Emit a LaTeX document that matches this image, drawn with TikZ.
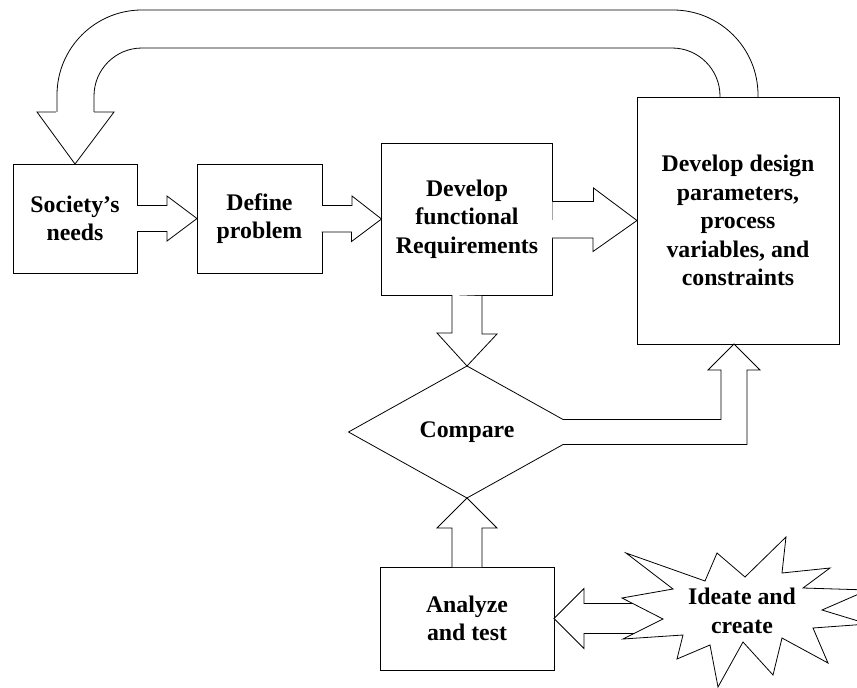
\documentclass[tikz,border=0pt]{standalone}
\usepackage{fontspec}
\setmainfont{Liberation Serif}
\usetikzlibrary{shapes.geometric,calc}

\begin{document}
\begin{tikzpicture}[
  x=1pt, y=-1pt,
  font=\fontsize{23.8}{28.5}\selectfont\bfseries,
  line width=0.8pt,
  box/.style={rectangle, draw, align=center, inner sep=0pt, outer sep=0pt},
  decision/.style={diamond, draw, aspect=1.8, inner sep=0pt, outer sep=0pt,
                   minimum width=237pt, minimum height=132pt},
  blk/.style={draw, fill=white, line join=miter},
  band/.style={draw}
]
\useasboundingbox (0,0) rectangle (857,688);

% --- Fila superior ---
\node[box, minimum width=124pt, minimum height=109pt] (soc) at (75,218.5)
      {Society’s\\needs};
\node[box, minimum width=125pt, minimum height=109pt] (def) at (259.5,218.5)
      {Define\\problem};
\node[box, minimum width=171pt, minimum height=152pt] (fr) at (467,219)
      {Develop\\functional\\Requirements};
\node[box, minimum width=202pt, minimum height=247pt] (dp) at (738,220.5)
      {Develop design\\parameters,\\process\\variables, and\\constraints};

% --- Comparar y probar ---
\node[decision] (cmp) at (467,432) {Compare};
\node[box, minimum width=174pt, minimum height=103pt] (ana) at (467,618.5)
      {Analyze\\and test};
\coordinate (ia) at (660,618.5);
\coordinate (tipdp) at ([xshift=-4pt]dp.south);

% --- Flechas de bloque ---
\draw[blk] (soc.east) ++(0,-13) -- ++(30,0) -- ++(0,-9.5) -- (def.west)
      -- ++(-30,22.5) -- ++(0,-9.5) -- ++(-30,0);
\draw[blk] (def.east) ++(0,-13) -- ++(30,0) -- ++(0,-9.5) -- (fr.west)
      -- ++(-30,22.5) -- ++(0,-9.5) -- ++(-30,0);
\draw[blk] (fr.east) ++(0,-17.5) -- ++(41,0) -- ++(0,-13.5) -- (dp.west)
      -- ++(-44,31) -- ++(0,-13.5) -- ++(-41,0);
\draw[blk] (fr.south) ++(-15,0) -- ++(0,38) -- ++(-15,0) -- (cmp.north)
      -- ++(30,-32) -- ++(-15,0) -- ++(0,-38);
\draw[blk] (ana.north) ++(-15,0) -- ++(0,-39) -- ++(-15,0) -- (cmp.south)
      -- ++(30,30) -- ++(-15,0) -- ++(0,39);
\draw[blk] ($(cmp.east)!0.19!(cmp.north)$) -| ([xshift=-13pt,yshift=-26pt]tipdp)
      -- ++(-13,0) -- (tipdp) -- ++(26,26) -- ++(-13,0)
      |- ($(cmp.east)!0.19!(cmp.south)$);
\draw[blk] ([yshift=15pt]ia) -- ([xshift=30pt,yshift=15pt]ana.east) -- ++(0,-15)
      -- (ana.east) -- ++(30,30) -- ++(0,-15) -- ([yshift=-15pt]ia);

% --- Retorno a Society's needs ---
\draw[band, rounded corners=48pt] ([xshift=-18pt]dp.north)
      |- ([xshift=19pt,yshift=116pt]soc.north) -- ([xshift=19pt,yshift=52pt]soc.north);
\draw[band, rounded corners=85pt] ([xshift=20pt]dp.north)
      |- ([xshift=-18pt,yshift=154pt]soc.north) -- ([xshift=-18pt,yshift=52pt]soc.north);
\draw[blk] ([xshift=19pt,yshift=52pt]soc.north) -- ++(20,0) -- (soc.north)
      -- ++(-38,-52) -- ++(19,0);

% --- Estallido ---
\draw[blk] (626,553) -- (705,581) -- (717,553) -- (745,577) -- (786,537)
      -- (782,573) -- (830,568) -- (803,588) -- (868,590) -- (822,610)
      -- (868,624) -- (813,628) -- (828,663) -- (782,638) -- (773,675)
      -- (743,642) -- (718,687) -- (710,645) -- (677,659) -- (683,635)
      -- (623,639) -- (663,619) -- (622,598) -- (673,589) -- cycle;
\node[align=center] (idea) at (742,611) {Ideate and\\create};

\end{tikzpicture}
\end{document}
